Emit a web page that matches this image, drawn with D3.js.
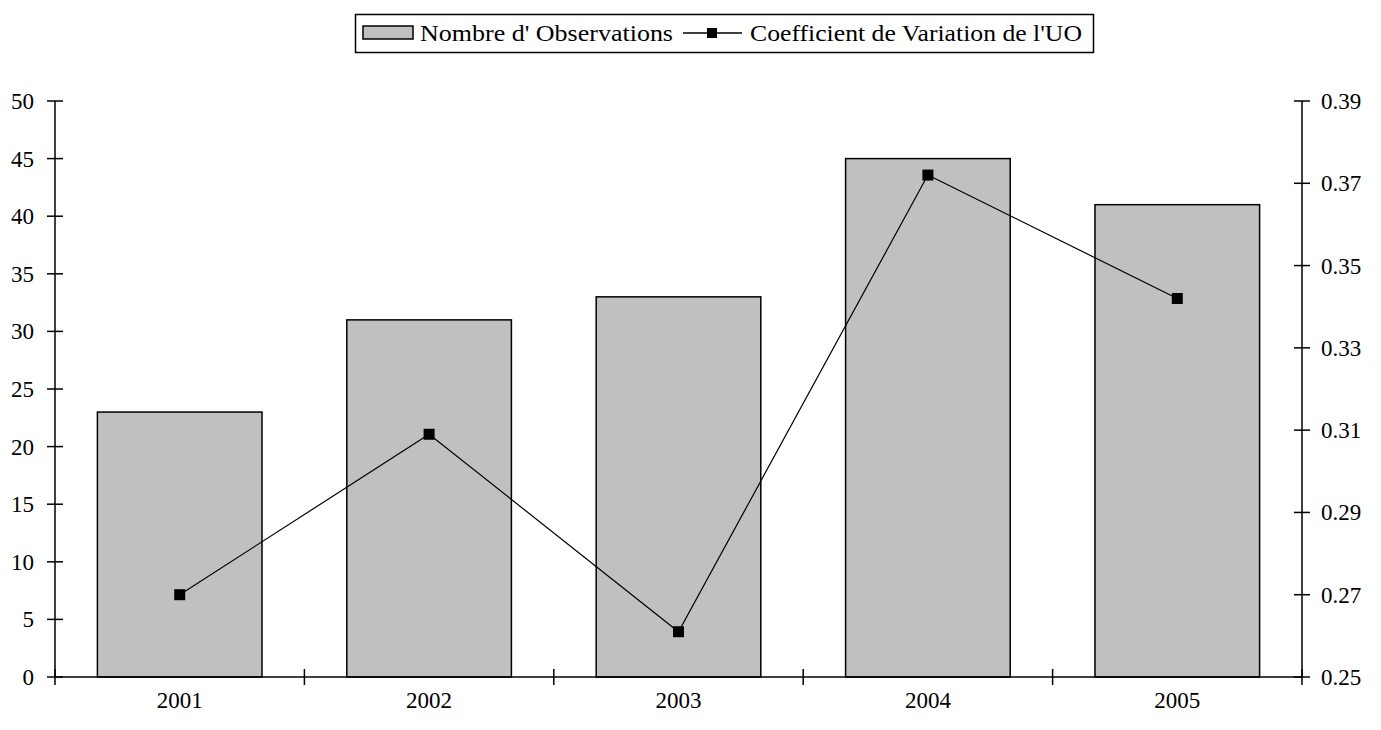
<!DOCTYPE html>
<html><head><meta charset="utf-8">
<script src="https://cdn.jsdelivr.net/npm/d3@7"></script>
<style>body{margin:0;background:#fff}svg{display:block}text{font-family:"Liberation Serif","Times New Roman",serif;fill:#000}</style>
</head><body><svg id="c" width="1381" height="730"></svg>
<script>
const years = ["2001","2002","2003","2004","2005"];
const observations = [23, 31, 33, 45, 41];
const coefVariation = [0.270, 0.309, 0.261, 0.372, 0.342];
const leftTicks = [0,5,10,15,20,25,30,35,40,45,50];
const rightTicks = [0.25,0.27,0.29,0.31,0.33,0.35,0.37,0.39];
const seriesNames = ["Nombre d' Observations", "Coefficient de Variation de l'UO"];

const svg = d3.select("#c");
const L = 55, R = 1302, T = 101, B = 677;
const x = d3.scaleBand().domain(years).range([L, R]).paddingInner(0.34).paddingOuter(0.17);
const xb = d3.scaleBand().domain(years).range([L, R]);
const yL = d3.scaleLinear().domain([0, 50]).range([B, T]);
const yR = d3.scaleLinear().domain([0.25, 0.39]).range([B, T]);
const fs = 23;

// bars
svg.append("g").selectAll("rect").data(years).join("rect")
  .attr("x", d => xb(d) + xb.bandwidth()/2 - x.bandwidth()/2)
  .attr("width", x.bandwidth())
  .attr("y", (d,i) => yL(observations[i]))
  .attr("height", (d,i) => B - yL(observations[i]))
  .attr("fill", "#c0c0c0").attr("stroke", "#000").attr("stroke-width", 1.5);

// left axis
const gl = svg.append("g").attr("transform", `translate(${L},0)`);
gl.append("line").attr("y1", T).attr("y2", B).attr("stroke", "#000").attr("stroke-width", 1.5);
gl.selectAll("line.t").data(leftTicks).join("line").attr("class","t")
  .attr("x1", -8).attr("x2", 8).attr("y1", d => yL(d)).attr("y2", d => yL(d)).attr("stroke","#000").attr("stroke-width",1.5);
gl.selectAll("text").data(leftTicks).join("text")
  .attr("x", -21).attr("y", d => yL(d)).attr("dy", "0.35em").attr("text-anchor","end")
  .attr("font-size", fs).text(d => d);

// right axis
const gr = svg.append("g").attr("transform", `translate(${R},0)`);
gr.append("line").attr("y1", T).attr("y2", B).attr("stroke", "#000").attr("stroke-width", 1.5);
gr.selectAll("line.t").data(rightTicks).join("line").attr("class","t")
  .attr("x1", -8).attr("x2", 8).attr("y1", d => yR(d)).attr("y2", d => yR(d)).attr("stroke","#000").attr("stroke-width",1.5);
gr.selectAll("text").data(rightTicks).join("text")
  .attr("x", 19).attr("y", d => yR(d)).attr("dy", "0.35em").attr("text-anchor","start")
  .attr("font-size", fs).text(d => d3.format(".2f")(d));

// x axis
const gx = svg.append("g").attr("transform", `translate(0,${B})`);
gx.append("line").attr("x1", L).attr("x2", R).attr("stroke","#000").attr("stroke-width",1.5);
const bounds = years.map(d => xb(d)).concat([R]);
gx.selectAll("line.t").data(bounds).join("line").attr("class","t")
  .attr("x1", d => d).attr("x2", d => d).attr("y1", -8).attr("y2", 8).attr("stroke","#000").attr("stroke-width",1.5);
gx.selectAll("text").data(years).join("text")
  .attr("x", d => xb(d) + xb.bandwidth()/2).attr("y", 15).attr("dy","0.71em").attr("text-anchor","middle")
  .attr("font-size", fs).text(d => d);

// line
const cx = d => xb(d) + xb.bandwidth()/2;
const line = d3.line().x((d,i) => cx(years[i])).y(d => yR(d));
svg.append("path").datum(coefVariation).attr("d", line).attr("fill","none").attr("stroke","#000").attr("stroke-width",1.2);
svg.append("g").selectAll("rect").data(coefVariation).join("rect")
  .attr("x", (d,i) => cx(years[i]) - 5.5).attr("y", d => yR(d) - 5.5)
  .attr("width", 11).attr("height", 11).attr("fill","#000");

// legend
const lg = svg.append("g");
lg.append("rect").attr("x", 355.5).attr("y", 14.5).attr("width", 738).attr("height", 38)
  .attr("fill","#fff").attr("stroke","#000").attr("stroke-width",1.5);
lg.append("rect").attr("x", 363).attr("y", 26).attr("width", 50).attr("height", 13)
  .attr("fill","#c0c0c0").attr("stroke","#000").attr("stroke-width",1.5);
lg.append("text").attr("x", 420).attr("y", 33).attr("dy","0.35em").attr("font-size", fs)
  .attr("textLength", 253).attr("lengthAdjust","spacingAndGlyphs").text(seriesNames[0]);
lg.append("line").attr("x1", 683).attr("x2", 742).attr("y1", 33).attr("y2", 33).attr("stroke","#000").attr("stroke-width",1.5);
lg.append("rect").attr("x", 707).attr("y", 28).attr("width", 10).attr("height", 10).attr("fill","#000");
lg.append("text").attr("x", 750).attr("y", 33).attr("dy","0.35em").attr("font-size", fs)
  .attr("textLength", 332).attr("lengthAdjust","spacingAndGlyphs").text(seriesNames[1]);
</script></body></html>
